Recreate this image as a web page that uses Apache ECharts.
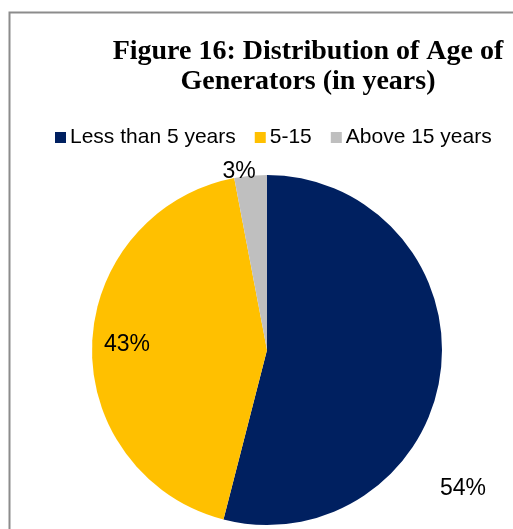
<!DOCTYPE html>
<html>
<head>
<meta charset="utf-8">
<script src="https://cdn.jsdelivr.net/npm/echarts@6/dist/echarts.min.js"></script>
<style>
  html, body { margin: 0; padding: 0; background: #fff; }
  #chart { width: 513px; height: 529px; }
</style>
</head>
<body>
<div id="chart"></div>
<script>
// Share of generators by age group (percent)
const categories = ['Less than 5 years', '5-15', 'Above 15 years'];
const shares = [54, 43, 3];
const sliceColors = ['#002060', '#FFC000', '#BFBFBF'];

// Where each percentage label sits (data label placement)
const labelSpots = [[463, 489], [127, 345], [239, 172]];

const chart = echarts.init(document.getElementById('chart'), null, { renderer: 'canvas' });

chart.setOption({
  animation: false,
  backgroundColor: '#ffffff',
  title: {
    text: 'Figure 16: Distribution of Age of\nGenerators (in years)',
    left: 303,
    top: 32,
    textAlign: 'center',
    textStyle: {
      fontFamily: 'Liberation Serif',
      fontWeight: 'bold',
      fontSize: 28,
      lineHeight: 30,
      color: '#000'
    }
  },
  legend: {
    data: categories,
    left: 50,
    top: 122,
    icon: 'rect',
    itemWidth: 11,
    itemHeight: 11,
    itemGap: 19,
    textStyle: {
      fontFamily: 'Liberation Sans',
      fontSize: 21,
      color: '#000',
      padding: [0, 0, 0, -1]
    }
  },
  graphic: [{
    type: 'rect',
    shape: { x: 9.5, y: 12.5, width: 600, height: 600 },
    style: { fill: 'none', stroke: '#8c8c8c', lineWidth: 2 },
    silent: true
  }],
  series: [{
    type: 'pie',
    center: [267, 350],
    radius: 175,
    startAngle: 90,
    clockwise: true,
    avoidLabelOverlap: false,
    data: categories.map((name, i) => ({
      name,
      value: shares[i],
      itemStyle: { color: sliceColors[i] }
    })),
    label: {
      show: true,
      position: 'inside',
      formatter: p => p.value + '%',
      fontFamily: 'Liberation Sans',
      fontSize: 23,
      color: '#000'
    },
    labelLine: { show: false },
    labelLayout: params => ({
      x: labelSpots[params.dataIndex][0],
      y: labelSpots[params.dataIndex][1],
      align: 'center',
      verticalAlign: 'middle'
    }),
    emphasis: { disabled: true }
  }]
});
</script>
</body>
</html>
